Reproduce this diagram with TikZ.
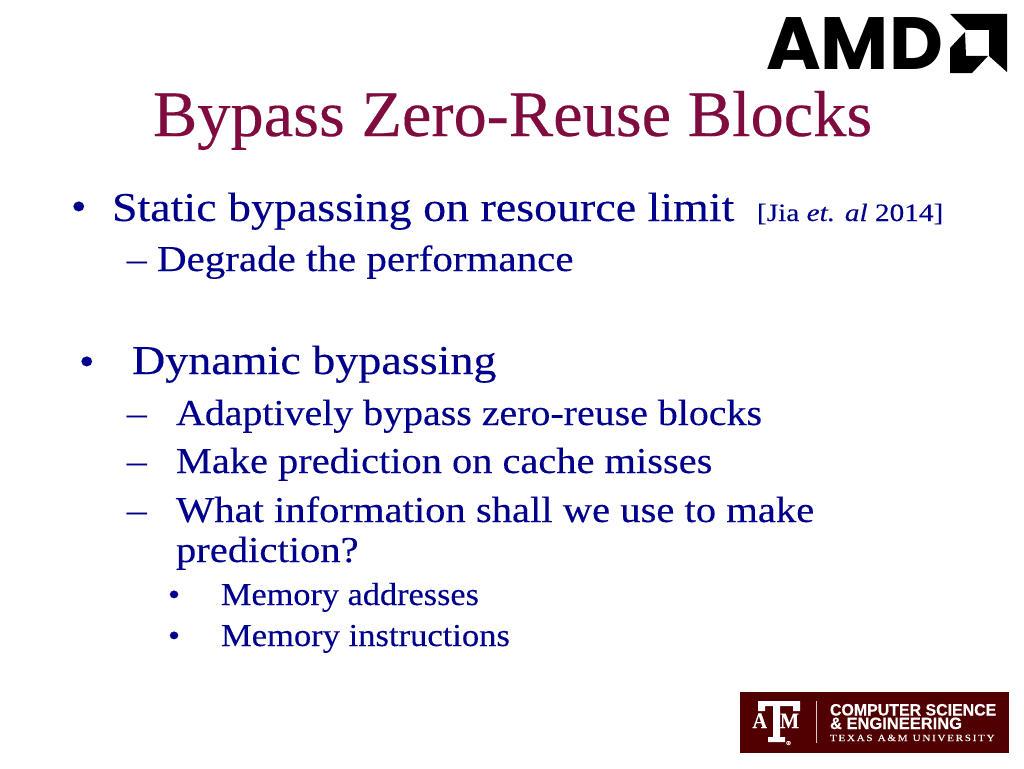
\documentclass[tikz,border=0pt]{standalone}
\usepackage{graphicx}
\usepackage{fontspec}
\setmainfont[FakeStretch=1.08,FakeBold=0.2]{Liberation Serif}
\newfontfamily\logofont[FakeStretch=1.1]{Poppins}
\newfontfamily\tamsans[FakeBold=0.3]{Liberation Sans}
\definecolor{titlecol}{HTML}{7F0B3F}
\definecolor{bodycol}{HTML}{00008C}
\definecolor{maroon}{HTML}{500000}
\newcommand{\fs}[1]{\fontsize{#1}{#1}\selectfont}
\newcommand{\sx}[2]{\scalebox{#1}[1]{#2}}
\tikzset{
 x=1pt,y=-1pt,
 line/.style={anchor=base west,inner sep=0pt,outer sep=0pt,text=bodycol},
 lone/.style={line,font=\fs{41}},
 ltwo/.style={line,font=\fs{36.5}},
 lthree/.style={line,font=\fs{32}},
 bul/.style={anchor=base west,inner sep=0pt,outer sep=0pt,text=bodycol},
 tamtxt/.style={anchor=base west,inner sep=0pt,outer sep=0pt,text=white},
}
\begin{document}
\begin{tikzpicture}
\useasboundingbox (0,0) rectangle (1024,768);
\fill[white] (0,0) rectangle (1024,768);
% AMD logo
\node[anchor=base west,inner sep=0pt,font=\logofont\bfseries\fs{74}] (amd) at (766,69) {\sx{0.912}{AMD}};
\fill[black] (950,14) -- (1007,14) -- (1007,72) -- (989,56) -- (989,30) -- (966,30) -- cycle;
\fill[black] (965,32) -- (950,48) -- (950,73) -- (972,73) -- (988,56) -- (966,56) -- cycle;
% title
\node[line,text=titlecol,font=\fs{65}] (title) at (153,136) {\sx{0.946}{Bypass Zero-Reuse Blocks}};
% body
\node[bul,font=\fs{41}] (b1) at (71,220) {•};
\node[lone] (t1) at (112,221) {\sx{1.037}{Static bypassing on resource limit}};
\node[line,font=\fs{25}] (t1r) at (757,221) {\sx{1.085}{[Jia \textit{et. al} 2014]}};
\node[ltwo] (d1) at (127,271) {–};
\node[ltwo] (t2) at (157,271) {\sx{1.04}{Degrade the performance}};
\node[bul,font=\fs{41}] (b2) at (79,375) {•};
\node[lone] (t3) at (132,374) {\sx{1.04}{Dynamic bypassing}};
\node[ltwo] (d2) at (127,425) {–};
\node[ltwo] (t4) at (176,425) {\sx{1.012}{Adaptively bypass zero-reuse blocks}};
\node[ltwo] (d3) at (127,473) {–};
\node[ltwo] (t5) at (176,473) {\sx{1.025}{Make prediction on cache misses}};
\node[ltwo] (d4) at (127,522) {–};
\node[ltwo] (t6) at (176,522) {\sx{1.03}{What information shall we use to make}};
\node[ltwo] (t7) at (176,562) {\sx{1.03}{prediction?}};
\node[bul,font=\fs{32}] (b3) at (168,605) {•};
\node[lthree] (t8) at (221,605) {\sx{0.992}{Memory addresses}};
\node[bul,font=\fs{32}] (b4) at (168,646) {•};
\node[lthree] (t9) at (221,646) {Memory instructions};
% TAMU logo
\fill[maroon] (740,692) rectangle (1009,753);
\fill[white!80!maroon] (815.5,701) rectangle (816.5,743);
\fill[white] (758,701) -- (800,701) -- (800,711) -- (793,711) -- (793,706) -- (780,706) -- (780,737) -- (785,737) -- (785,742) -- (768,742) -- (768,737) -- (773,737) -- (773,706) -- (765,706) -- (765,711) -- (758,711) -- cycle;
\node[tamtxt,font=\fs{22}\bfseries] (tA) at (752.5,728) {\sx{0.85}{A}};
\node[tamtxt,font=\fs{22}\bfseries] (tM) at (780,728) {\sx{0.85}{M}};
\node[tamtxt,font=\fs{6}] (tR) at (786,745) {®};
\node[tamtxt,font=\tamsans\bfseries\fs{16.5}] (c1) at (830,715.5) {\sx{0.965}{COMPUTER SCIENCE}};
\node[tamtxt,font=\tamsans\bfseries\fs{16.5}] (c2) at (830,729) {\& ENGINEERING};
\node[tamtxt,font=\fs{9.5}] (c3) at (830,741) {\sx{1.08}{T\,E\,X\,A\,S\,\,\,A\,\&\,M\,\,\,U\,N\,I\,V\,E\,R\,S\,I\,T\,Y}};
\end{tikzpicture}
\end{document}
